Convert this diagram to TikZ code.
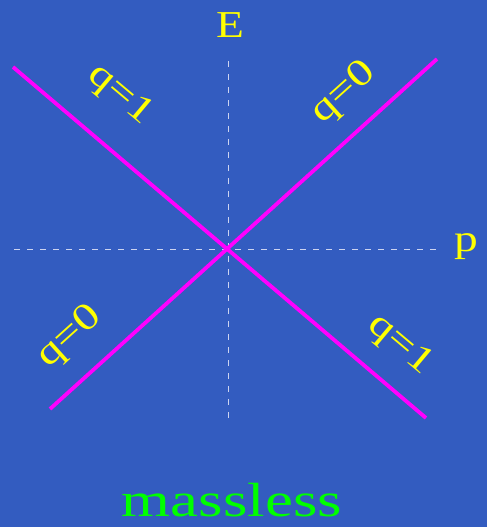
\documentclass[tikz,border=0pt]{standalone}
\usepackage{fontspec}
\setmainfont{Liberation Serif}
\usepackage{xcolor}
\usetikzlibrary{calc}
\definecolor{slideblue}{RGB}{51, 92, 192}
\definecolor{branchpink}{RGB}{255, 0, 255}
\definecolor{labelyellow}{RGB}{255, 255, 0}
\definecolor{titlegreen}{RGB}{0, 255, 0}
\definecolor{axisgray}{RGB}{205, 212, 240}
\newcommand{\widetext}[2]{\scalebox{#1}[1]{#2}}

\begin{document}
\begin{tikzpicture}[
  x=1pt, y=-1pt,
  every node/.style={inner sep=0pt, font=\fontsize{38}{40}\selectfont},
  axis/.style={draw=axisgray, line width=0.9pt, dash pattern=on 6pt off 7pt},
  branch/.style={draw=branchpink, line width=3.8pt},
  charge/.style={text=labelyellow},
  axlabel/.style={text=labelyellow},
  title/.style={text=titlegreen, font=\fontsize{48}{50}\selectfont}
]

  % Sfondo e riquadro
  \useasboundingbox[fill=slideblue] (0,0) rectangle (487,527);

  % Punti di riferimento
  \coordinate (origin) at (228,249);
  \coordinate (pleft) at (14,249);
  \coordinate (pright) at (442,249);
  \coordinate (etop) at (228,58);
  \coordinate (ebot) at (228,418);
  \coordinate (a1) at (13,67);
  \coordinate (a2) at (426,418);
  \coordinate (b1) at (50,409);
  \coordinate (b2) at (437,59);

  % Assi tratteggiati
  \draw[axis] (pleft) -- (pright);
  \draw[axis] (ebot) -- (etop);
  \node[axlabel] (elab) at (230,25) {\widetext{1.2}{E}};
  \node[axlabel] (plab) at (466,247) {\widetext{1.25}{p}};

  % Rami E = |p|
  \draw[branch] (a1) -- (a2);
  \draw[branch] (b1) -- (b2);

  % Etichette delle cariche
  \node[charge, rotate=-40] (q1top) at (120,95) {\widetext{1.25}{q=1}};
  \node[charge, rotate=42] (q0top) at (344,93) {\widetext{1.25}{q=0}};
  \node[charge, rotate=42] (q0bot) at (70,337) {\widetext{1.25}{q=0}};
  \node[charge, rotate=-40] (q1bot) at (400,345) {\widetext{1.25}{q=1}};

  \node[title] (mass) at (232,500) {\widetext{1.31}{massless}};

\end{tikzpicture}
\end{document}
